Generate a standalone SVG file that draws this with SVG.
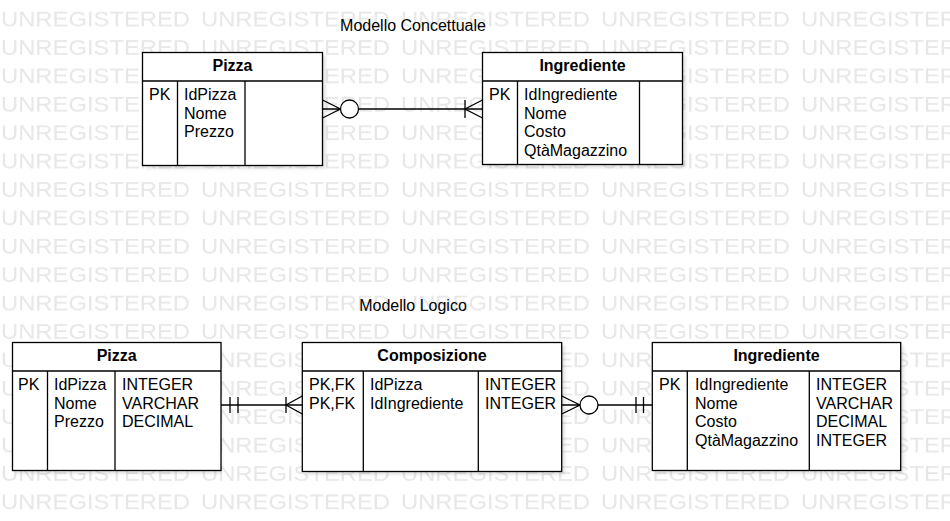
<svg xmlns="http://www.w3.org/2000/svg" width="950" height="521" viewBox="0 0 950 521">
<style>
  text { font-family: "Liberation Sans", Arial, sans-serif; font-size: 16px; fill: #000; }
  .wm { font-size: 22px; fill: #e7e7e7; }
  .title { font-weight: bold; text-anchor: middle; }
  .lbl { text-anchor: middle; }
  .box { fill: #fff; stroke: #000; stroke-width: 1.3; }
  .ln { fill: none; stroke: #000; stroke-width: 1.3; }
  .sh { fill: #000; fill-opacity: 0.12; filter: url(#blur); }
  .conn path { fill: none; stroke: #000; stroke-width: 1.3; }
  .conn circle { fill: #fff; stroke: #000; stroke-width: 1.3; }
</style>
<defs>
  <filter id="blur" x="-10%" y="-10%" width="120%" height="120%">
    <feGaussianBlur stdDeviation="1.5"/>
  </filter>
  <pattern id="wmark" patternUnits="userSpaceOnUse" x="0" y="0" width="200" height="28.4">
    <text class="wm" x="1" y="26" textLength="189" lengthAdjust="spacingAndGlyphs">UNREGISTERED</text>
  </pattern>
</defs>

<rect x="0" y="0" width="950" height="521" fill="#fff"/>
<rect x="0" y="0" width="950" height="521" fill="url(#wmark)"/>

<text id="label-concettuale" class="lbl" x="413" y="31">Modello Concettuale</text>
<text id="label-logico" class="lbl" x="413" y="311">Modello Logico</text>

<!-- Conceptual: Pizza -->
<g id="c-pizza">
  <rect class="sh" x="145.5" y="55.5" width="180" height="113"/>
  <rect class="box" x="142.5" y="52.5" width="180" height="113"/>
  <path class="ln" d="M142.5 81H322.5M177.5 81V165.5M245 81V165.5"/>
  <text class="title" x="232.5" y="71">Pizza</text>
  <text x="149" y="100">PK</text>
  <text x="184" y="100">IdPizza</text>
  <text x="184" y="118.7">Nome</text>
  <text x="184" y="137.4">Prezzo</text>
</g>

<!-- Conceptual: Ingrediente -->
<g id="c-ingrediente">
  <rect class="sh" x="485.5" y="55.5" width="200" height="112"/>
  <rect class="box" x="482.5" y="52.5" width="200" height="112"/>
  <path class="ln" d="M482.5 81H682.5M517.5 81V164.5M639.5 81V164.5"/>
  <text class="title" x="582.5" y="71">Ingrediente</text>
  <text x="489" y="100">PK</text>
  <text x="524" y="100">IdIngrediente</text>
  <text x="524" y="118.7">Nome</text>
  <text x="524" y="137.4">Costo</text>
  <text x="524" y="156.1">QtàMagazzino</text>
</g>

<!-- Logical: Pizza -->
<g id="l-pizza">
  <rect class="sh" x="15.5" y="345.5" width="206" height="128"/>
  <rect class="box" x="12.5" y="342.5" width="208.5" height="128"/>
  <path class="ln" d="M12.5 371H221M47.5 371V470.5M115 371V470.5"/>
  <text class="title" x="116.7" y="361">Pizza</text>
  <text x="18" y="390">PK</text>
  <text x="54" y="390">IdPizza</text>
  <text x="54" y="408.7">Nome</text>
  <text x="54" y="427.4">Prezzo</text>
  <text x="122" y="390">INTEGER</text>
  <text x="122" y="408.7">VARCHAR</text>
  <text x="122" y="427.4">DECIMAL</text>
</g>

<!-- Logical: Composizione -->
<g id="l-composizione">
  <rect class="sh" x="305.3" y="345.5" width="259.4" height="129"/>
  <rect class="box" x="302.3" y="342.5" width="259.4" height="129"/>
  <path class="ln" d="M302.3 371H561.7M363.3 371V471.5M478.3 371V471.5"/>
  <text class="title" x="432" y="361">Composizione</text>
  <text x="309" y="390">PK,FK</text>
  <text x="309" y="408.7">PK,FK</text>
  <text x="370" y="390">IdPizza</text>
  <text x="370" y="408.7">IdIngrediente</text>
  <text x="485" y="390">INTEGER</text>
  <text x="485" y="408.7">INTEGER</text>
</g>

<!-- Logical: Ingrediente -->
<g id="l-ingrediente">
  <rect class="sh" x="655.3" y="345.5" width="248.4" height="128"/>
  <rect class="box" x="652.3" y="342.5" width="248.4" height="128"/>
  <path class="ln" d="M652.3 371H900.7M687.3 371V470.5M809.3 371V470.5"/>
  <text class="title" x="776.5" y="361">Ingrediente</text>
  <text x="659" y="390">PK</text>
  <text x="695" y="390">IdIngrediente</text>
  <text x="695" y="408.7">Nome</text>
  <text x="695" y="427.4">Costo</text>
  <text x="695" y="446.1">QtàMagazzino</text>
  <text x="816" y="390">INTEGER</text>
  <text x="816" y="408.7">VARCHAR</text>
  <text x="816" y="427.4">DECIMAL</text>
  <text x="816" y="446.1">INTEGER</text>
</g>

<!-- Connectors -->
<g id="connectors" class="conn">
  <!-- Conceptual Pizza (zero-to-many) to Ingrediente (one-to-many) -->
  <g id="c-pizza-ingrediente">
    <path d="M322.5 109H340.5M322.5 100L340.5 109L322.5 118"/>
    <circle cx="349.5" cy="109" r="9"/>
    <path d="M358.5 109H482.5"/>
    <path d="M482.5 100L465 109L482.5 118M465 100V118"/>
  </g>
  <!-- Logical Pizza (one-and-only-one) to Composizione (one-to-many) -->
  <g id="l-pizza-composizione">
    <path d="M221 405H302.3"/>
    <path d="M230 397V413M238 397V413"/>
    <path d="M302.3 396L286 405L302.3 414M286 397V413"/>
  </g>
  <!-- Logical Composizione (zero-to-many) to Ingrediente (one-and-only-one) -->
  <g id="l-composizione-ingrediente">
    <path d="M561.7 405H580M561.7 396L580 405L561.7 414"/>
    <circle cx="589" cy="405" r="9"/>
    <path d="M598 405H652.3"/>
    <path d="M636 397V413M643.5 397V413"/>
  </g>
</g>
</svg>
